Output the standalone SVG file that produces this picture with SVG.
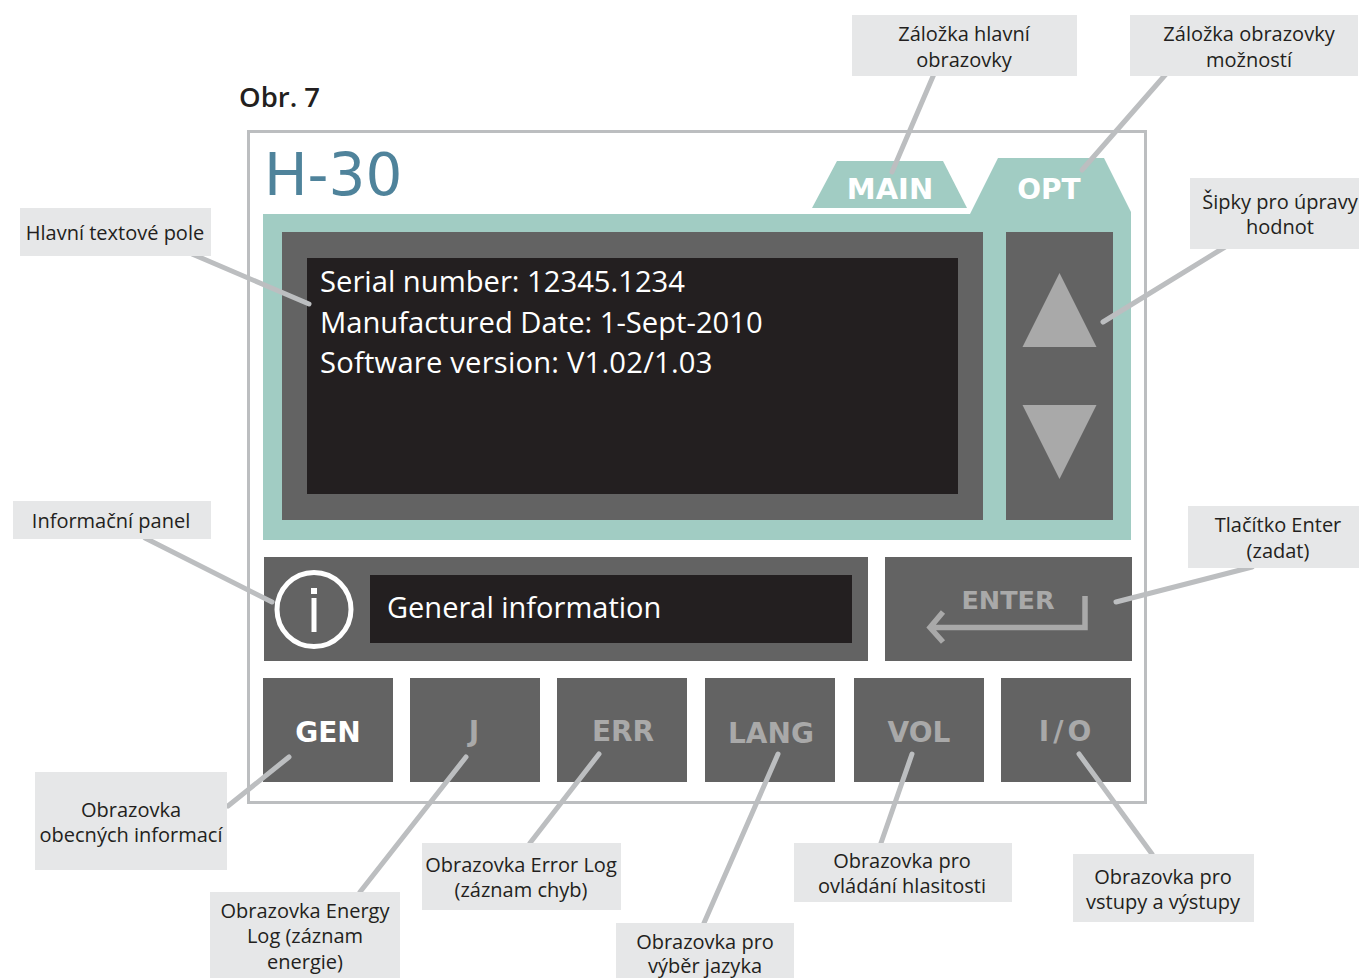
<svg xmlns="http://www.w3.org/2000/svg" width="1359" height="978" viewBox="0 0 1359 978">
<style>
.lbl{font-family:"Open Sans","Noto Sans",sans-serif;font-size:20px;fill:#231f20;text-anchor:middle}
.box{fill:#e6e7e8}
.dark{fill:#636363}
.blk{fill:#231f20}
.teal{fill:#a1ccc3}
.scr{font-family:"Open Sans","Noto Sans",sans-serif;font-size:29.2px;fill:#fff}
.btn{font-family:"DejaVu Sans",sans-serif;font-weight:bold;font-size:28px;text-anchor:middle;fill:#a9a9a9}
.con{stroke:#bcbec0;stroke-width:5;stroke-linecap:round;fill:none}
</style>
<rect width="1359" height="978" fill="#fff"/>
<text x="239" y="107" font-family="'Open Sans','Noto Sans',sans-serif" font-weight="600" font-size="27.500" fill="#231f20">Obr. 7</text>
<g id="device">
<rect x="248.500" y="131.500" width="897" height="671" fill="#fff" stroke="#bcbec0" stroke-width="3"/>
<text x="264" y="195" font-family="'DejaVu Sans',sans-serif" font-size="58" fill="#4f839b">H-30</text>
<path class="teal" d="M837 161H943L967 208H812Z"/>
<path class="teal" d="M998 158H1104L1131 212V540H263V214H970Z"/>
<text x="890" y="199" class="btn" style="fill:#fff;font-size:29px">MAIN</text>
<text x="1049" y="199" class="btn" style="fill:#fff">OPT</text>
</g>
<g id="main-screen">
<rect class="dark" x="282" y="232" width="701" height="288"/>
<rect class="blk" x="307" y="258" width="651" height="236"/>
<text class="scr" x="320" y="292">Serial number: 12345.1234</text>
<text class="scr" x="320" y="333">Manufactured Date: 1-Sept-2010</text>
<text class="scr" x="320" y="373" style="letter-spacing:.2px">Software version: V1.02/1.03</text>
</g>
<g id="arrows">
<rect class="dark" x="1006" y="232" width="107" height="288"/>
<path d="M1059.500 273L1096.500 347H1022.500Z" fill="#a9a9a9"/>
<path d="M1059.500 479L1096.500 405H1022.500Z" fill="#a9a9a9"/>
</g>
<g id="info-panel">
<rect class="dark" x="264" y="557" width="604" height="104"/>
<rect class="blk" x="370" y="575" width="482" height="68"/>
<circle cx="314" cy="609.500" r="37" fill="none" stroke="#fff" stroke-width="5"/>
<rect x="311" y="588" width="6" height="6" fill="#fff"/>
<rect x="311.500" y="598" width="5" height="34" fill="#fff"/>
<text class="scr" x="387" y="618" style="font-size:29px">General information</text>
</g>
<g id="enter">
<rect class="dark" x="885" y="557" width="247" height="104"/>
<text x="1008" y="609" class="btn" style="font-size:25.500px">ENTER</text>
<path d="M1085 596V627.500H932M943 612L930 627.500L943 642" fill="none" stroke="#a9a9a9" stroke-width="5.500"/>
</g>
<g id="btn-gen"><rect class="dark" x="263" y="678" width="130" height="104"/><text x="328" y="742" class="btn" style="fill:#fff">GEN</text></g>
<g id="btn-j"><rect class="dark" x="410" y="678" width="130" height="104"/><text x="474" y="741" class="btn">J</text></g>
<g id="btn-err"><rect class="dark" x="557" y="678" width="130" height="104"/><text x="623" y="741" class="btn">ERR</text></g>
<g id="btn-lang"><rect class="dark" x="705" y="678" width="130" height="104"/><text x="771" y="743" class="btn">LANG</text></g>
<g id="btn-vol"><rect class="dark" x="854" y="678" width="130" height="104"/><text x="919" y="742" class="btn">VOL</text></g>
<g id="btn-io"><rect class="dark" x="1001" y="678" width="130" height="104"/><text x="1067" y="741" class="btn" style="letter-spacing:4px">I/O</text></g>
<g id="connectors" class="con">
<path d="M934 74L892 172"/>
<path d="M1166 74L1082 170"/>
<path d="M1225 247L1103 322"/>
<path d="M192 254L309 304"/>
<path d="M145 538L272 602"/>
<path d="M1252 567L1116 602"/>
<path d="M228 806L289 757"/>
<path d="M360 892L466 757"/>
<path d="M530 843L599 754"/>
<path d="M704 923L778 754"/>
<path d="M881 843L912 754"/>
<path d="M1152 854L1079 754"/>
</g>
<g id="label-main"><rect class="box" x="852" y="15" width="225" height="61"/><text class="lbl" x="964" y="41">Záložka hlavní</text><text class="lbl" x="964" y="67">obrazovky</text></g>
<g id="label-opt"><rect class="box" x="1130" y="15" width="228" height="61"/><text class="lbl" x="1249" y="41">Záložka obrazovky</text><text class="lbl" x="1249" y="67">možností</text></g>
<g id="label-arrows"><rect class="box" x="1190" y="178" width="169" height="71"/><text class="lbl" x="1280" y="209">Šipky pro úpravy</text><text class="lbl" x="1280" y="234">hodnot</text></g>
<g id="label-text"><rect class="box" x="20" y="208" width="191" height="48"/><text class="lbl" x="115" y="240">Hlavní textové pole</text></g>
<g id="label-info"><rect class="box" x="13" y="501" width="198" height="38"/><text class="lbl" x="111" y="528">Informační panel</text></g>
<g id="label-enter"><rect class="box" x="1188" y="506" width="171" height="62"/><text class="lbl" x="1278" y="532">Tlačítko Enter</text><text class="lbl" x="1278" y="558">(zadat)</text></g>
<g id="label-gen"><rect class="box" x="35" y="772" width="192" height="98"/><text class="lbl" x="131" y="817">Obrazovka</text><text class="lbl" x="131" y="842">obecných informací</text></g>
<g id="label-j"><rect class="box" x="210" y="892" width="190" height="86"/><text class="lbl" x="305" y="918">Obrazovka Energy</text><text class="lbl" x="305" y="943">Log (záznam</text><text class="lbl" x="305" y="969">energie)</text></g>
<g id="label-err"><rect class="box" x="422" y="843" width="199" height="67"/><text class="lbl" x="521" y="872">Obrazovka Error Log</text><text class="lbl" x="521" y="897">(záznam chyb)</text></g>
<g id="label-lang"><rect class="box" x="616" y="923" width="178" height="55"/><text class="lbl" x="705" y="949">Obrazovka pro</text><text class="lbl" x="705" y="973">výběr jazyka</text></g>
<g id="label-vol"><rect class="box" x="794" y="843" width="218" height="59"/><text class="lbl" x="902" y="868">Obrazovka pro</text><text class="lbl" x="902" y="893">ovládání hlasitosti</text></g>
<g id="label-io"><rect class="box" x="1073" y="854" width="181" height="68"/><text class="lbl" x="1163" y="884">Obrazovka pro</text><text class="lbl" x="1163" y="909">vstupy a výstupy</text></g>
</svg>
